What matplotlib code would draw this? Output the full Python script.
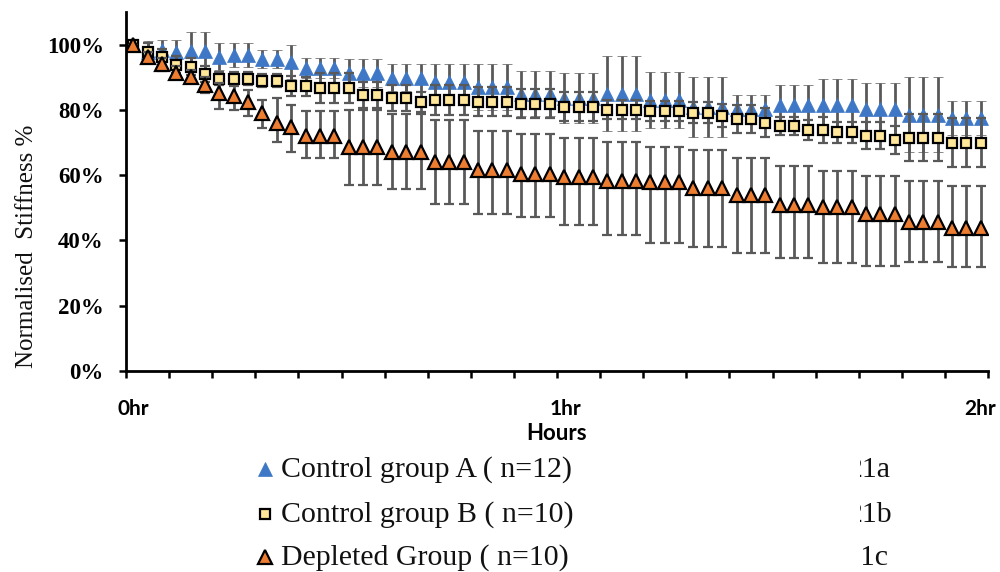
import matplotlib
matplotlib.use("Agg")
import matplotlib.pyplot as plt
from matplotlib.transforms import Bbox, ScaledTranslation
import numpy as np

# readings every 2 minutes over 2 hours (60 points), values in %
group_a = [100, 97.9, 98.5, 97.9, 98.2, 98.2, 96.3, 96.9, 96.9, 95.7, 95.7, 94.8,
           92.9, 92.9, 92.9, 91.4, 91.4, 91.4, 89.9, 89.9, 89.9, 88.7, 88.7, 88.7,
           87.1, 87.1, 87.1, 85.0, 85.0, 85.0, 83.7, 83.7, 83.7, 84.9, 84.9, 84.9,
           83.1, 83.1, 83.1, 81.0, 81.0, 81.0, 80.4, 80.4, 80.4, 81.6, 81.6, 81.6,
           81.6, 81.6, 81.6, 80.4, 80.4, 80.4, 78.5, 78.5, 78.5, 77.6, 77.6, 77.6]
group_a_err = [0, 3.3, 2.8, 3.4, 5.8, 5.8, 4.2, 3.6, 3.6, 2.8, 2.8, 5.2,
               3.1, 3.1, 3.1, 4.3, 4.3, 4.3, 4.2, 4.2, 4.2, 5.4, 5.4, 5.4,
               7.0, 7.0, 7.0, 6.8, 6.8, 6.8, 7.6, 7.6, 7.6, 11.5, 11.5, 11.5,
               8.6, 8.6, 8.6, 9.2, 9.2, 9.2, 4.3, 4.3, 4.3, 6.1, 6.1, 6.1,
               7.9, 7.9, 7.9, 7.9, 7.9, 7.9, 11.5, 11.5, 11.5, 5.2, 5.2, 5.2]

group_b = [100, 97.9, 96.3, 93.9, 93.3, 91.1, 89.6, 89.6, 89.6, 89.0, 89.0, 87.4,
           87.2, 86.8, 86.8, 86.8, 84.7, 84.7, 83.7, 83.7, 82.5, 83.1, 83.1, 83.1,
           82.5, 82.5, 82.5, 81.9, 81.9, 81.9, 81.0, 81.0, 81.0, 80.1, 80.1, 80.1,
           79.6, 79.6, 79.6, 79.2, 79.2, 78.2, 77.2, 77.2, 76.1, 75.1, 75.1, 73.9,
           73.9, 73.1, 73.1, 72.1, 72.1, 70.9, 71.4, 71.4, 71.4, 70.0, 70.0, 70.0]
group_b_err = [0, 2.5, 2.5, 2.5, 2.5, 2.5, 2, 2, 2, 2, 2, 3,
               3, 4.6, 4.6, 4.6, 4, 4, 4, 4, 3, 4.6, 4.6, 4.6,
               4.5, 4.5, 4.5, 4.5, 4.5, 4.5, 4.5, 4.5, 4.5, 3, 3, 3,
               3, 3, 3, 3.2, 3.2, 3.5, 4.2, 4.2, 4.4, 2.7, 2.7, 3,
               3.9, 3.1, 3.1, 4.1, 4.1, 4.3, 7.2, 7.2, 7.2, 7.4, 7.4, 7.4]

depleted = [100, 96.3, 94.0, 91.4, 90.2, 87.7, 85.2, 84.4, 82.5, 79.0, 76.0, 74.7,
            72.1, 72.1, 72.1, 68.7, 68.7, 68.7, 67.2, 67.2, 67.2, 64.1, 64.1, 64.1,
            61.7, 61.7, 61.7, 60.4, 60.4, 60.4, 59.5, 59.5, 59.5, 58.3, 58.3, 58.3,
            58.0, 58.0, 58.0, 56.0, 56.0, 56.0, 54.0, 54.0, 54.0, 50.9, 50.9, 50.9,
            50.3, 50.3, 50.3, 48.2, 48.2, 48.2, 45.7, 45.7, 45.7, 43.9, 43.9, 43.9]
depleted_up = [0, 1.5, 2, 2, 2, 2.5, 3, 3, 3.5, 4, 7.7, 6.9,
               7.7, 7.7, 7.7, 11.4, 11.4, 11.4, 11.4, 11.4, 11.4, 12.9, 12.9, 12.9,
               11.9, 11.9, 11.9, 12.3, 12.3, 12.3, 12.0, 12.0, 12.0, 11.9, 11.9, 11.9,
               10.7, 10.7, 10.7, 11.8, 11.8, 11.8, 11.4, 11.4, 11.4, 12.0, 12.0, 12.0,
               11.0, 11.0, 11.0, 11.6, 11.6, 11.6, 12.6, 12.6, 12.6, 12.8, 12.8, 12.8]
depleted_down = [0, 1.5, 2, 2, 2, 2.5, 5, 4.4, 4.3, 4.5, 5.8, 7.5,
                 6.8, 6.8, 6.8, 11.6, 11.6, 11.6, 11.4, 11.4, 11.4, 12.9, 12.9, 12.9,
                 13.5, 13.5, 13.5, 13.2, 13.2, 13.2, 14.7, 14.7, 14.7, 16.6, 16.6, 16.6,
                 18.7, 18.7, 18.7, 17.9, 17.9, 17.9, 17.9, 17.9, 17.9, 16.2, 16.2, 16.2,
                 17.2, 17.2, 17.2, 16.0, 16.0, 16.0, 12.3, 12.3, 12.3, 11.9, 11.9, 11.9]

labels = ["Control group A ( n=12)", "Control group B ( n=10)", "Depleted Group ( n=10)"]
side_labels = ["21a", "21b", "21c"]

minutes = np.arange(len(group_a)) * 2 + 1  # centre of each 2-minute slot

fig = plt.figure(figsize=(10, 5.72), dpi=100)
ax = fig.add_axes([0.126, 0.3514, 0.862, 0.6276])

err_style = dict(ecolor="#595959", elinewidth=2.0, capsize=3.8, capthick=2.0, linestyle="none")
pct = lambda v: np.array(v) / 100

ax.errorbar(minutes, pct(group_a), yerr=pct(group_a_err), marker="^", ms=10.5,
            mfc="#3D77C6", mec="#3D77C6", mew=0.5, zorder=2, **err_style)
ax.errorbar(minutes, pct(group_b), yerr=pct(group_b_err), marker="s", ms=7.5,
            mfc="#FFE699", mec="black", mew=1.6, zorder=3, **err_style)
ax.errorbar(minutes, pct(depleted), yerr=[pct(depleted_down), pct(depleted_up)], marker="^",
            ms=10.5, mfc="#ED7D31", mec="black", mew=1.6, zorder=4, **err_style)

ax.set_xlim(0, 120)
ax.set_ylim(0, 1.1)
ax.set_yticks(np.arange(0, 1.01, 0.2))
ax.set_yticklabels([f"{int(round(v * 100))}%" for v in np.arange(0, 1.01, 0.2)],
                   fontfamily="Liberation Serif", fontweight="bold", fontsize=16.5)
ax.set_xticks(np.arange(0, 121, 6))
ax.set_xticklabels(["0hr" if t == 0 else "1hr" if t == 60 else "2hr" if t == 120 else ""
                    for t in range(0, 121, 6)],
                   fontfamily="Lato", fontweight="bold", fontsize=15)
ax.tick_params(direction="out", length=5, width=1.8, colors="black")
ax.tick_params(axis="y", pad=11)
ax.tick_params(axis="x", pad=15)
# nudge the hour labels the way the original sits them
for lab, dx in zip([l for l in ax.get_xticklabels() if l.get_text()], [7, 8, -8]):
    lab.set_transform(lab.get_transform() + ScaledTranslation(dx / 100, 0, fig.dpi_scale_trans))
for s in ["top", "right"]:
    ax.spines[s].set_visible(False)
for s in ["left", "bottom"]:
    ax.spines[s].set_linewidth(2)
ax.set_xlabel("Hours", fontfamily="Lato", fontweight="bold", fontsize=16, labelpad=3)

fig.text(0.027, 0.57, "Normalised  Stiffness %", rotation=90, va="center", ha="center",
         fontfamily="Liberation Serif", fontsize=18, color="#111111")

# legend rows under the chart
rows_y = [470, 515, 558]
marker_kw = [dict(marker="^", ms=10, mfc="#3D77C6", mec="#3D77C6", mew=0.5),
             dict(marker="s", ms=7.5, mfc="#FFE699", mec="black", mew=1.6),
             dict(marker="^", ms=10.5, mfc="#ED7D31", mec="black", mew=1.6)]
side_x = [848, 848, 846]
side_clip = [860, 860, 863]
for yy, lab, side, mk, sx, sc in zip(rows_y, labels, side_labels, marker_kw, side_x, side_clip):
    fy = 1 - yy / 572
    fig.add_artist(plt.Line2D([0.265], [fy + 0.002], transform=fig.transFigure, **mk))
    fig.text(0.281, fy, lab, va="center", ha="left", fontfamily="Liberation Serif",
             fontsize=21.5, color="#111111")
    # the figure numbers are cut off on the left in the original
    t = fig.text(sx / 1000, fy, side, va="center", ha="left", fontfamily="Liberation Serif",
                 fontsize=21.5, color="#111111", clip_on=True)
    t.set_clip_box(Bbox.from_extents(sc, 0, 1000, 572))

fig.savefig("out.png", dpi=100)
